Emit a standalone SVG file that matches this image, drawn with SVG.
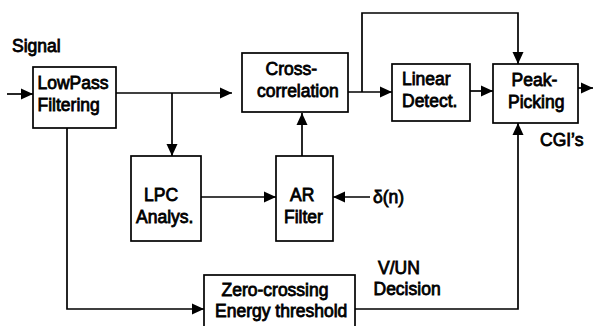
<svg xmlns="http://www.w3.org/2000/svg" width="593" height="326" viewBox="0 0 593 326">
<style>
.box{fill:#fff;stroke:#000;stroke-width:1.7}
.ln{fill:none;stroke:#000;stroke-width:1.7}
.arr{marker-end:url(#ah)}
text{font-family:"Liberation Sans",Arial,sans-serif;font-size:17.5px;fill:#000;stroke:#000;stroke-width:0.8}
</style>
<defs>
<marker id="ah" markerUnits="userSpaceOnUse" markerWidth="13" markerHeight="13" viewBox="0 0 13 13" refX="12" refY="6.5" orient="auto">
<path d="M0,1 L12,6.5 L0,12 Z" fill="#000"/>
</marker>
</defs>
<rect width="593" height="326" fill="#fff"/>
<g id="connectors">
<path class="ln arr" d="M7,94 H33"/>
<path class="ln arr" d="M116,93 H232"/>
<path class="ln arr" d="M172,93 V156"/>
<path class="ln arr" d="M201,197 H276"/>
<path class="ln arr" d="M370,197 H333"/>
<path class="ln arr" d="M302,156 V113"/>
<path class="ln arr" d="M348,92 H392"/>
<path class="ln arr" d="M362,92 V13 H518 V64"/>
<path class="ln arr" d="M470,91 H493"/>
<path class="ln arr" d="M578,88 H593"/>
<path class="ln arr" d="M67,128 V309 H204"/>
<path class="ln arr" d="M355,309 H518 V123"/>
</g>
<g id="signal"><text x="12" y="52">Signal</text></g>
<g id="lowpass"><rect class="box" x="33" y="67" width="83" height="61"/><text x="37.5" y="89">LowPass</text><text x="37.5" y="111">Filtering</text></g>
<g id="crosscorr"><rect class="box" x="242" y="53" width="106" height="59"/><text x="265.5" y="75">Cross-</text><text x="257" y="97">correlation</text></g>
<g id="linear"><rect class="box" x="392" y="64" width="78" height="57"/><text x="402" y="85">Linear</text><text x="402" y="107">Detect.</text></g>
<g id="peak"><rect class="box" x="493" y="64" width="85" height="59"/><text x="511.5" y="86">Peak-</text><text x="508" y="108">Picking</text></g>
<g id="cgis"><text x="540" y="146">CGI’s</text></g>
<g id="lpc"><rect class="box" x="131" y="156" width="70" height="85"/><text x="144" y="201">LPC</text><text x="136" y="223">Analys.</text></g>
<g id="ar"><rect class="box" x="276" y="156" width="57" height="85"/><text x="290" y="201">AR</text><text x="284" y="223">Filter</text></g>
<g id="delta"><text x="373" y="203">δ(n)</text></g>
<g id="vun"><text x="378" y="274">V/UN</text><text x="373.5" y="295">Decision</text></g>
<g id="zerocross"><rect class="box" x="204" y="275" width="151" height="60"/><text x="221.5" y="296">Zero-crossing</text><text x="215" y="317">Energy threshold</text></g>
</svg>
